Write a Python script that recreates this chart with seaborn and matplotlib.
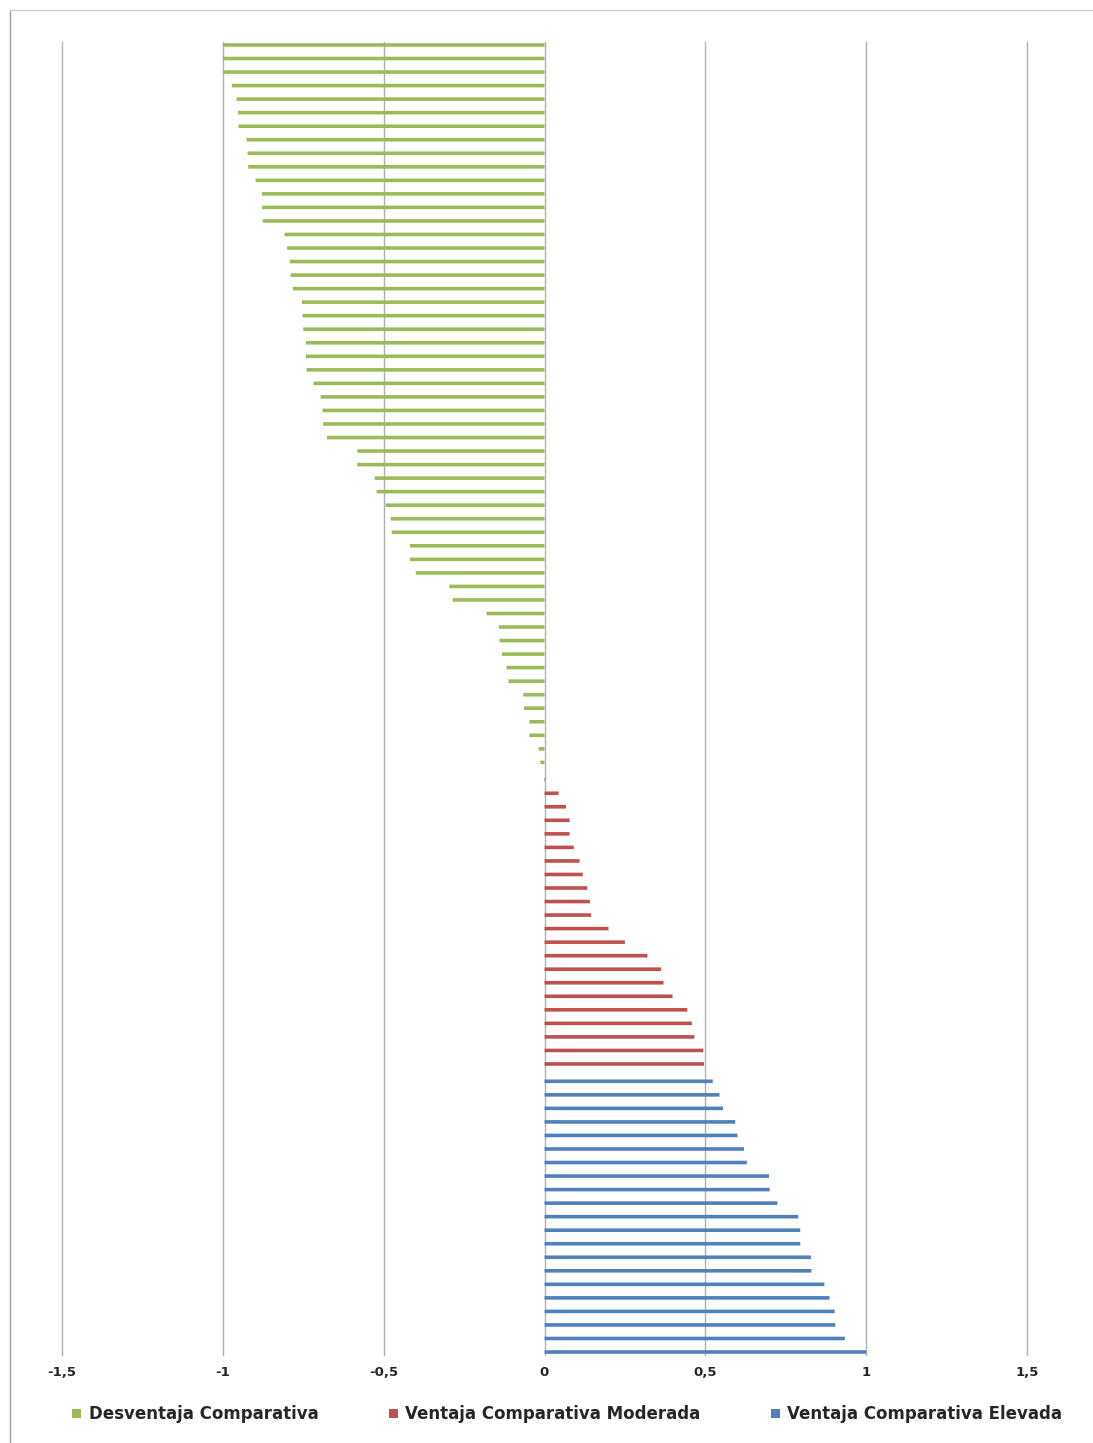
import pandas as pd
import matplotlib.pyplot as plt
import seaborn as sns
from matplotlib.lines import Line2D

# Series names and colours (Excel 2007 palette)
series_names = ["Desventaja Comparativa", "Ventaja Comparativa Moderada", "Ventaja Comparativa Elevada"]
colors = ["#9BBB59", "#C0504D", "#4F81BD"]

# Values, top to bottom
desventaja = [-1.0, -1.0, -1.0, -0.972, -0.957, -0.953, -0.951, -0.926, -0.923, -0.921,
              -0.898, -0.878, -0.878, -0.876, -0.808, -0.800, -0.792, -0.789, -0.782, -0.754,
              -0.752, -0.750, -0.742, -0.742, -0.740, -0.718, -0.696, -0.690, -0.688, -0.676,
              -0.582, -0.582, -0.528, -0.522, -0.494, -0.478, -0.475, -0.418, -0.418, -0.400,
              -0.296, -0.286, -0.180, -0.142, -0.140, -0.132, -0.118, -0.112, -0.066, -0.064,
              -0.047, -0.047, -0.018, -0.013]
moderada = [0.002, 0.044, 0.067, 0.078, 0.078, 0.091, 0.109, 0.119, 0.133, 0.141,
            0.145, 0.199, 0.250, 0.320, 0.363, 0.370, 0.398, 0.444, 0.458, 0.466,
            0.494, 0.496]
elevada = [0.523, 0.544, 0.555, 0.593, 0.600, 0.620, 0.629, 0.698, 0.700, 0.724,
           0.789, 0.795, 0.795, 0.828, 0.830, 0.870, 0.886, 0.902, 0.904, 0.934,
           1.0]

tick_values = [-1.5, -1, -0.5, 0, 0.5, 1, 1.5]
tick_labels = ["-1,5", "-1", "-0,5", "0", "0,5", "1", "1,5"]

# Build long table
values = desventaja + moderada + elevada
series = ([series_names[0]] * len(desventaja) + [series_names[1]] * len(moderada)
          + [series_names[2]] * len(elevada))
categories = [str(i + 1) for i in range(len(values))]
df = pd.DataFrame({"Categoria": categories, "Valor": values, "Serie": series})

# Plotting
sns.set_style("white")
plt.rcParams['font.family'] = ['DejaVu Sans']
fig = plt.figure(figsize=(10.93, 14.43), dpi=100)
ax = fig.add_axes([62 / 1093, 88 / 1443, 965 / 1093, 1313 / 1443])

sns.barplot(data=df, x="Valor", y="Categoria", hue="Serie", hue_order=series_names,
            palette=colors, order=categories, orient="h", width=0.84, gap=0.05,
            dodge=True, errorbar=None, saturation=1, linewidth=0, edgecolor="none", ax=ax)

# Keep all bars the same thickness (no pixel snapping)
for p in ax.patches:
    p.set_snap(False)

# Axes formatting
ax.set_xlim(-1.5, 1.5)
ax.set_xticks(tick_values, tick_labels, fontsize=9.5, fontweight='bold')
ax.set_yticks([])
ax.set_xlabel("")
ax.set_ylabel("")
ax.set_axisbelow(True)
ax.xaxis.grid(True, color="#b0b0b0", linewidth=1)
for gl in ax.get_xgridlines():
    gl.set_clip_on(False)
ax.tick_params(axis='x', length=0, pad=8)
for s in ax.spines.values():
    s.set_visible(False)

# Legend at the bottom
handles, labels = ax.get_legend_handles_labels()
ax.get_legend().remove()
fig.legend(handles, labels, loc='center', bbox_to_anchor=(0.519, 0.020), ncol=3,
           frameon=False, prop={'weight': 'bold', 'size': 12},
           handlelength=0.55, handleheight=0.45, handletextpad=0.45, columnspacing=4.2)

# Chart border (left and top)
fig.add_artist(Line2D([10 / 1093, 10 / 1093], [0, 1 - 10 / 1443], color="#a0a0a0", lw=1))
fig.add_artist(Line2D([10 / 1093, 1], [1 - 10 / 1443, 1 - 10 / 1443], color="#d0d0d0", lw=1))

plt.savefig("out.png", dpi=100)
